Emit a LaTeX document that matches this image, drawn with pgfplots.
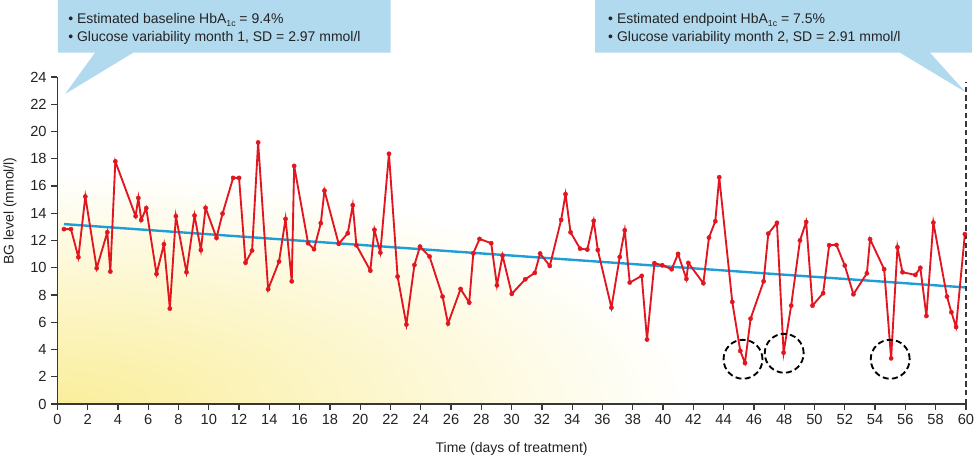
\documentclass[border=0pt]{standalone}
\usepackage{fontspec}
\setmainfont{Liberation Sans}
\usepackage{pgfplots}
\pgfplotsset{compat=1.18}

\definecolor{bgred}{RGB}{226,22,32}
\definecolor{trendblue}{RGB}{30,158,214}
\definecolor{calloutblue}{RGB}{178,218,238}
\definecolor{shadeyellow}{RGB}{250,238,155}
\definecolor{axisgray}{RGB}{55,55,55}
\definecolor{txtgray}{RGB}{35,35,35}

\begin{document}
\begin{tikzpicture}
\useasboundingbox (-43pt,-40.5pt) rectangle (688.3pt,303pt);
% yellow glow in the lower left of the plot area
\begin{scope}
  \clip (0,0) rectangle (681.5pt,245.3pt);
  \shade[inner color=shadeyellow, outer color=white] (0,0) ellipse [x radius=480pt, y radius=175pt];
\end{scope}
\begin{axis}[
    scale only axis,
    width=681.5pt, height=245.3pt,
    xmin=0, xmax=60, ymin=0, ymax=24,
    axis x line*=bottom, axis y line*=left,
    axis line style={axisgray, line width=0.9pt, -},
    xtick={0,2,...,60}, ytick={0,2,...,24},
    tick align=outside, major tick length=4.5pt,
    tick style={axisgray, line width=0.9pt},
    /pgf/number format/assume math mode=true,
    ticklabel style={font=\fontsize{11}{13}\selectfont, text=txtgray},
    clip=false,
    xlabel={Time (days of treatment)},
    ylabel={BG level (mmol/l)},
    label style={font=\fontsize{10.5}{12}\selectfont, text=txtgray},
    xlabel style={at={(axis description cs:0.5,-0.138)}, anchor=center},
    ylabel style={at={(axis description cs:-0.052,0.59)}, anchor=center},
]
% trend
\addplot[trendblue, line width=1.8pt] coordinates {(0.44,13.2) (60,8.55)};
% blood glucose readings
\addplot[bgred, line width=1.4pt, mark=*, mark size=1.6pt, mark options={line width=0.3pt}] coordinates {
(0.44,12.83) (0.90,12.83) (1.39,10.77) (1.85,15.22) (2.60,9.96) (3.30,12.60)
(3.50,9.72) (3.83,17.80) (5.17,13.78) (5.35,15.12) (5.54,13.50) (5.87,14.37)
(6.55,9.54) (7.04,11.72) (7.43,7.00) (7.83,13.78) (8.53,9.67) (9.06,13.83)
(9.48,11.30) (9.79,14.39) (10.51,12.19) (10.91,13.97) (11.61,16.59) (12.00,16.59)
(12.43,10.37) (12.86,11.26) (13.26,19.19) (13.92,8.42) (14.64,10.45) (15.07,13.58)
(15.48,9.00) (15.64,17.47) (16.56,11.80) (16.95,11.36) (17.40,13.27) (17.64,15.66)
(18.58,11.75) (19.18,12.53) (19.51,14.59) (19.75,11.65) (20.67,9.79) (20.94,12.78)
(21.33,11.11) (21.90,18.36) (22.47,9.35) (23.05,5.83) (23.58,10.20) (23.95,11.55)
(24.58,10.82) (25.44,7.88) (25.80,5.90) (26.63,8.44) (27.20,7.44) (27.47,11.06)
(27.88,12.11) (28.65,11.80) (29.03,8.71) (29.40,10.89) (30.01,8.08) (30.90,9.15)
(31.53,9.62) (31.88,11.04) (32.52,10.13) (33.27,13.51) (33.56,15.40) (33.89,12.60)
(34.52,11.40) (35.00,11.33) (35.42,13.44) (35.69,11.30) (36.59,7.07) (37.14,10.79)
(37.47,12.75) (37.80,8.91) (38.59,9.40) (38.94,4.73) (39.43,10.33) (39.95,10.18)
(40.57,9.89) (40.99,11.01) (41.54,9.18) (41.67,10.35) (42.66,8.86) (43.03,12.21)
(43.45,13.41) (43.71,16.64) (44.57,7.49) (45.10,3.89) (45.41,3.01) (45.78,6.26)
(46.64,9.00) (46.95,12.50) (47.52,13.29) (47.96,3.77) (48.46,7.22) (49.04,12.00)
(49.45,13.36) (49.87,7.22) (50.57,8.13) (50.97,11.65) (51.45,11.67) (52.00,10.16)
(52.57,8.05) (53.46,9.59) (53.67,12.09) (54.60,9.89) (55.06,3.35) (55.48,11.50)
(55.81,9.67) (56.66,9.47) (56.99,9.99) (57.39,6.46) (57.85,13.31) (58.75,7.88)
(59.04,6.73) (59.35,5.65) (59.93,12.46)
};
% hypoglycaemia circles
\addplot[only marks, mark=o, mark size=14.6pt,
    mark options={black, line width=1.4pt, dash pattern=on 4.5pt off 2.5pt}]
    coordinates {(45.28,3.28) (48.0,3.72) (55.0,3.28)};
% end of treatment marker
\addplot[axisgray, line width=0.9pt, dash pattern=on 4pt off 2.5pt] coordinates {(60,0) (60,23.6)};
\end{axis}
% callouts
\fill[calloutblue] (0.5pt,306pt) -- (0.5pt,263.5pt) -- (28.3pt,263.5pt) -- (5.8pt,232.5pt)
  -- (57pt,263.5pt) -- (250pt,263.5pt) -- (250pt,306pt) -- cycle;
\fill[calloutblue] (403.3pt,306pt) -- (403.3pt,263.5pt) -- (632pt,263.5pt) -- (681.3pt,233.8pt)
  -- (654.5pt,263.5pt) -- (686pt,263.5pt) -- (686pt,306pt) -- cycle;
\begin{scope}[every node/.style={anchor=base west, inner sep=0pt, text=txtgray,
    font=\fontsize{10.5}{12}\selectfont}]
\node at (8pt,285pt) {• Estimated baseline HbA\raisebox{-0.4ex}{\fontsize{6.5}{6.5}\selectfont 1c} = 9.4\%};
\node at (8pt,271.5pt) {• Glucose variability month 1, SD = 2.97 mmol/l};
\node at (413pt,285pt) {• Estimated endpoint HbA\raisebox{-0.4ex}{\fontsize{6.5}{6.5}\selectfont 1c} = 7.5\%};
\node at (413pt,271.5pt) {• Glucose variability month 2, SD = 2.91 mmol/l};
\end{scope}
\end{tikzpicture}
\end{document}
